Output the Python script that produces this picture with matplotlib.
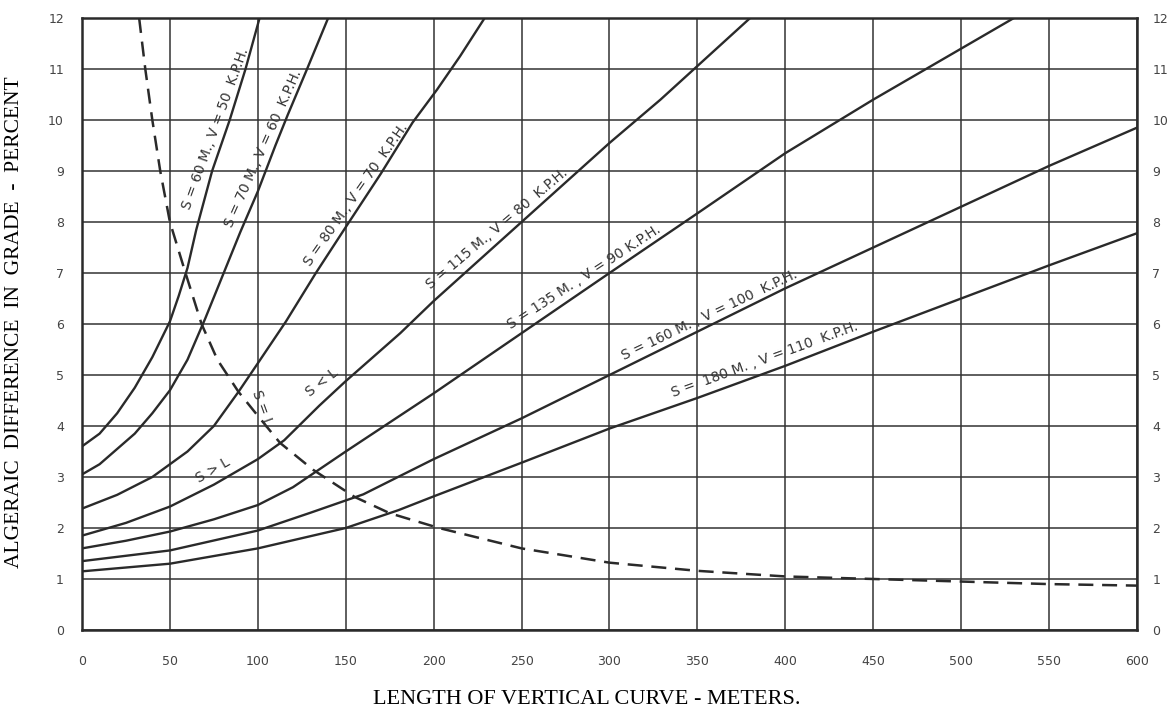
import matplotlib
matplotlib.use("Agg")
import numpy as np
import matplotlib.pyplot as plt
from matplotlib.transforms import offset_copy

# curves: length of vertical curve (m) vs algebraic difference (%)
c1_x = [0, 10, 20, 30, 40, 50, 55, 60, 65, 74, 84, 93, 101]
c1_y = [3.6, 3.85, 4.25, 4.75, 5.35, 6.05, 6.55, 7.1, 7.85, 9.0, 10.0, 11.0, 12.0]

c2_x = [0, 10, 20, 30, 40, 50, 60, 70, 80, 90, 100, 110, 117, 128, 140]
c2_y = [3.05, 3.25, 3.55, 3.85, 4.25, 4.7, 5.3, 6.1, 6.95, 7.8, 8.6, 9.5, 10.1, 11.0, 12.0]

c3_x = [0, 20, 40, 60, 75, 89, 100, 116, 133, 150, 170, 188, 202, 215, 229]
c3_y = [2.38, 2.65, 3.0, 3.5, 4.0, 4.67, 5.23, 6.05, 7.0, 7.9, 8.95, 9.95, 10.6, 11.25, 12.0]

c4_x = [0, 25, 50, 75, 100, 115, 135, 150, 181, 200, 250, 300, 329, 380]
c4_y = [1.85, 2.1, 2.42, 2.85, 3.35, 3.72, 4.4, 4.88, 5.82, 6.45, 8.0, 9.55, 10.4, 12.0]

c5_x = [0, 25, 50, 75, 100, 120, 135, 150, 200, 250, 300, 350, 400, 450, 500, 530]
c5_y = [1.6, 1.75, 1.93, 2.17, 2.45, 2.8, 3.15, 3.5, 4.64, 5.82, 7.0, 8.17, 9.35, 10.4, 11.4, 12.0]

c6_x = [0, 50, 100, 130, 160, 200, 250, 300, 350, 400, 450, 500, 550, 600]
c6_y = [1.35, 1.56, 1.95, 2.3, 2.66, 3.35, 4.15, 5.0, 5.85, 6.7, 7.5, 8.3, 9.1, 9.85]

c7_x = [0, 50, 100, 150, 180, 200, 250, 300, 350, 400, 450, 500, 550, 600]
c7_y = [1.15, 1.3, 1.6, 2.0, 2.35, 2.62, 3.28, 3.95, 4.55, 5.18, 5.85, 6.5, 7.15, 7.78]

# S = L boundary (dashed)
sl_x = [32.5, 36, 40, 44.5, 50, 58.6, 68, 77, 89, 100, 112.6, 131.5, 155, 175, 203,
        250, 300, 350, 400, 450, 500, 550, 600]
sl_y = [12, 11, 10, 9, 8, 7.03, 6.0, 5.3, 4.67, 4.2, 3.67, 3.14, 2.61, 2.29, 2.0,
        1.6, 1.32, 1.16, 1.05, 1.0, 0.95, 0.9, 0.87]

x_ticks = [0, 50, 100, 150, 200, 250, 300, 350, 400, 450, 500, 550, 600]
y_ticks = list(range(0, 13))

# text, x, y, angle, offset above the line (points)
curve_labels = [
    ("S = 60 M., V = 50  K.P.H.", 79, 9.8, 70, 4),
    ("S = 70 M., V = 60  K.P.H.", 106, 9.4, 66, 4),
    ("S = 80 M., V = 70  K.P.H.", 157.6, 8.5, 55, 3),
    ("S = 115 M., V = 80  K.P.H.", 237.8, 7.8, 40, 3),
    ("S = 135 M. , V = 90 K.P.H.", 286.7, 6.85, 33, 3),
    ("S = 160 M. , V = 100  K.P.H.", 357.8, 6.1, 25.5, 3),
    ("S =  180 M. , V = 110  K.P.H.", 389, 5.22, 20, 3),
    ("S > L", 74.5, 3.14, 30, 0),
    ("S < L", 136.5, 4.86, 38, 0),
    ("S = L", 102.4, 4.35, -70, 0),
]

ink = "#2a2a2a"
fig = plt.figure(figsize=(11.73, 7.15), dpi=100)
ax = fig.add_axes([0.0699, 0.1189, 0.8994, 0.8559])

for xs, ys in [(c1_x, c1_y), (c2_x, c2_y), (c3_x, c3_y), (c4_x, c4_y),
               (c5_x, c5_y), (c6_x, c6_y), (c7_x, c7_y)]:
    ax.plot(xs, ys, color=ink, lw=1.7, solid_joinstyle="round")

ax.plot(sl_x, sl_y, color=ink, lw=1.8, linestyle=(0, (6, 3.5)))

for txt, x, y, rot, off in curve_labels:
    a = np.radians(rot)
    tr = offset_copy(ax.transData, fig=fig, x=-off * np.sin(a), y=off * np.cos(a),
                     units="points")
    ax.text(x, y, txt, rotation=rot, rotation_mode="anchor", ha="center", va="center",
            fontsize=10, color="#333333", family="DejaVu Sans", transform=tr)

ax.set_xlim(0, 600)
ax.set_ylim(0, 12)
ax.set_xticks(x_ticks)
ax.set_yticks(y_ticks)
ax.set_xticklabels([str(v) for v in x_ticks])
ax.grid(True, color="#333333", lw=1.1)
for s in ax.spines.values():
    s.set_color(ink)
    s.set_linewidth(1.8)
ax.tick_params(axis="both", length=0, labelsize=9, colors="#444444")
ax.tick_params(axis="y", pad=13)
ax.tick_params(axis="x", pad=18)

# right hand scale
ax2 = ax.twinx()
ax2.set_ylim(0, 12)
ax2.set_yticks(y_ticks)
ax2.tick_params(axis="y", length=0, labelsize=9, colors="#444444", pad=11)
for s in ax2.spines.values():
    s.set_visible(False)

fig.text(0.012, 0.55, "ALGERAIC  DIFFERENCE  IN  GRADE  -  PERCENT", rotation=90,
         ha="center", va="center", family="Liberation Serif", fontsize=15.5)
fig.text(0.5, 1 - 700 / 715, "LENGTH OF VERTICAL CURVE - METERS.",
         ha="center", va="center", family="Liberation Serif", fontsize=16)

fig.savefig("out.png", dpi=100)
